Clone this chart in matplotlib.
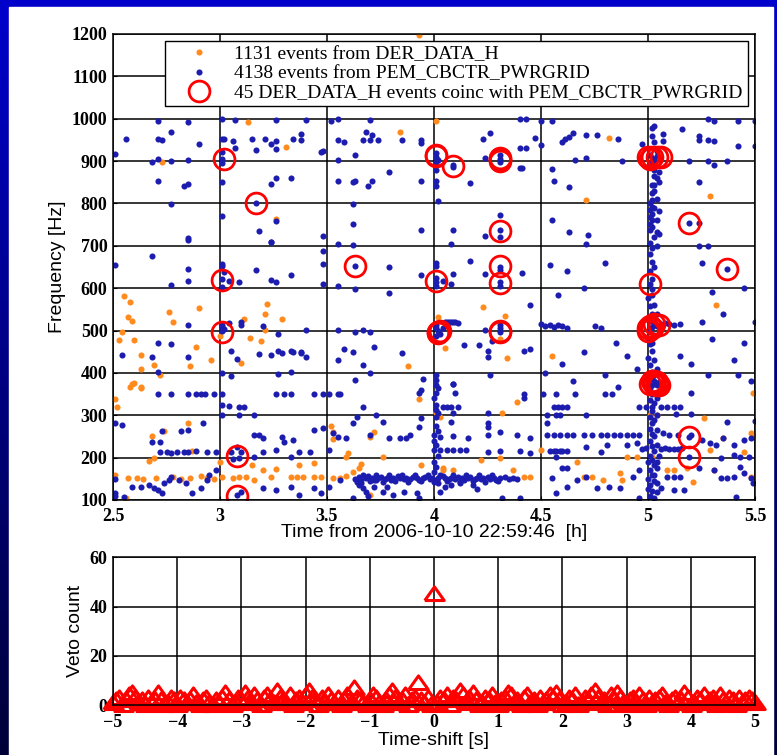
import numpy as np
import matplotlib
matplotlib.use("Agg")
import matplotlib.pyplot as plt
from matplotlib.lines import Line2D
from matplotlib.patches import Rectangle

# ── Data: scatter events (time [h], frequency [Hz]) ─────────────────────────
orange_pts = [
    (2.73, 897), (3.13, 993), (3.31, 933), (3.26, 763), (4.01, 995), (3.84, 969), (4.82, 955),
    (4.71, 807), (5.29, 818), (3.93, 1198),
    (2.55, 582), (2.58, 567), (2.57, 533), (2.59, 522), (2.54, 496), (2.53, 477), (2.60, 478),
    (2.76, 544), (2.78, 519), (2.90, 553), (2.63, 442), (2.69, 419), (2.63, 409), (2.72, 395),
    (2.89, 462), (2.96, 430), (2.86, 417), (3.00, 488), (3.11, 528), (3.10, 423), (3.22, 563),
    (3.21, 538), (3.29, 527), (3.21, 501), (3.19, 475), (3.14, 483), (2.60, 377), (2.58, 367),
    (2.63, 365), (4.02, 533), (4.23, 555), (4.33, 535), (4.31, 480), (4.05, 458), (4.34, 435),
    (3.88, 416), (4.55, 440), (5.32, 560),
    (2.59, 375), (2.63, 366), (2.51, 338), (2.52, 320), (2.85, 281), (2.74, 263), (2.68, 251),
    (2.69, 198), (2.67, 193), (2.87, 216), (2.57, 152), (2.61, 152), (2.64, 150), (2.70, 152),
    (2.78, 155), (2.82, 150), (2.86, 152), (2.91, 156), (2.94, 152), (2.97, 150), (2.56, 104),
    (2.51, 160), (3.00, 190), (3.01, 155), (3.06, 151), (3.09, 155), (3.15, 183), (3.12, 155),
    (3.16, 147), (3.20, 171), (3.26, 172), (3.24, 155), (3.33, 155), (3.36, 155), (3.39, 155),
    (3.44, 155), (3.47, 155), (3.37, 183), (3.44, 187), (3.52, 275), (3.53, 261), (3.53, 243),
    (3.59, 202), (3.60, 210), (3.65, 175), (3.70, 249), (3.72, 261), (3.76, 202), (3.53, 153),
    (3.56, 151), (3.59, 157), (3.62, 166), (3.66, 185), (3.70, 112), (3.93, 338), (4.01, 308),
    (4.03, 297), (4.04, 171), (4.39, 332), (4.01, 305), (4.32, 305), (5.01, 301), (5.04, 301),
    (5.26, 294), (5.49, 353), (5.48, 257),
    (3.94, 183), (4.04, 175), (4.09, 171), (4.22, 194), (4.31, 198), (4.37, 171), (4.42, 155),
    (4.45, 155), (4.50, 218), (4.67, 190), (4.70, 155), (4.74, 155), (4.79, 147), (4.87, 163),
    (4.88, 147), (4.90, 202), (4.95, 202), (5.02, 202), (5.09, 171), (5.12, 171), (5.18, 175),
    (5.21, 143), (5.29, 218), (5.31, 171), (5.35, 246), (5.45, 214), (5.48, 155), (5.49, 253),
]

blue_high = [
    (2.51, 916), (2.56, 953), (2.71, 995), (2.71, 951), (2.73, 949), (2.77, 969), (2.68, 897),
    (2.71, 905), (2.77, 900), (2.85, 992), (2.90, 941), (2.85, 903), (2.71, 852), (2.83, 841),
    (2.85, 845), (2.77, 799), (2.85, 718),
    (3.01, 1000), (3.07, 997), (3.26, 997), (3.40, 997), (3.01, 951), (3.02, 951), (3.06, 947),
    (3.07, 932), (3.15, 952), (3.17, 926), (3.21, 951), (3.24, 941), (3.26, 947), (3.26, 929),
    (3.34, 952), (3.38, 963), (3.38, 950), (3.01, 921), (3.01, 905), (3.01, 895), (3.01, 851),
    (3.24, 847), (3.26, 859), (3.33, 859), (3.17, 800), (3.01, 771), (3.18, 734), (3.26, 759),
    (3.24, 710), (3.47, 922),
    (3.52, 995), (3.55, 999), (3.70, 997), (4.40, 999), (4.43, 999), (3.68, 968), (3.71, 962),
    (3.70, 950), (3.67, 950), (3.74, 949), (3.55, 950), (3.58, 945), (3.85, 950), (3.94, 950),
    (3.94, 943), (3.48, 924), (3.55, 903), (3.63, 914), (4.01, 918), (4.01, 910), (4.02, 903),
    (4.01, 897), (4.01, 879), (4.09, 887), (4.09, 890), (3.79, 875), (3.55, 854), (3.62, 851),
    (3.63, 854), (3.69, 842), (3.71, 852), (3.94, 854), (4.01, 853), (4.01, 841), (4.17, 848),
    (4.02, 806), (4.23, 951), (4.26, 967), (4.24, 908), (4.31, 915), (4.31, 905), (4.31, 898),
    (4.40, 884), (4.40, 932), (4.43, 932), (3.62, 799), (3.62, 752), (3.48, 724), (3.55, 704),
    (3.62, 702), (3.94, 737), (4.09, 737), (4.08, 704), (4.31, 773), (4.31, 737), (4.31, 720),
    (4.24, 724),
    (4.50, 995), (4.55, 995), (5.28, 999), (5.31, 995), (5.42, 995), (5.50, 995), (5.02, 977),
    (5.03, 983), (5.16, 976), (5.07, 963), (5.07, 947), (5.24, 959), (5.24, 950), (5.28, 950),
    (5.31, 947), (5.42, 936), (5.50, 936), (4.47, 954), (4.50, 937), (4.60, 944), (4.63, 958),
    (4.61, 952), (4.65, 966), (4.71, 961), (4.76, 962), (4.86, 951), (4.97, 940), (4.66, 903),
    (4.71, 908), (4.88, 900), (5.01, 915), (5.02, 908), (5.03, 902), (5.04, 912), (5.02, 897),
    (5.19, 900), (5.28, 900), (5.31, 890), (5.37, 900), (4.41, 884), (4.55, 881), (4.56, 853),
    (4.63, 840), (5.05, 875), (5.03, 865), (5.05, 851), (5.02, 844), (5.03, 843), (5.24, 851),
    (5.02, 825), (5.02, 808), (5.01, 800), (5.02, 792), (5.01, 785), (5.02, 776), (5.01, 768),
    (5.02, 760), (5.01, 752), (5.02, 745), (5.01, 738), (5.05, 782), (4.55, 761), (5.19, 753),
    (5.24, 753), (4.63, 732), (4.72, 725), (4.71, 704), (5.04, 733), (5.05, 727), (5.01, 706),
    (5.24, 700), (5.28, 700),
]

blue_mid = [
    (2.85, 714), (3.24, 710), (2.68, 676), (2.51, 654), (2.85, 645), (2.85, 618), (2.77, 608),
    (3.01, 657), (3.01, 653), (3.02, 638), (3.01, 621), (3.01, 603), (3.04, 618), (3.09, 615),
    (3.17, 644), (3.24, 620), (3.26, 615), (3.33, 632), (2.85, 512), (3.01, 513), (3.01, 508),
    (3.01, 499), (3.02, 503), (3.04, 517), (3.10, 519), (3.10, 514), (3.20, 510), (3.27, 492),
    (3.40, 501), (2.54, 443), (2.68, 438), (2.71, 471), (2.77, 468), (2.85, 437), (3.05, 452),
    (3.08, 434), (3.18, 444), (3.24, 442), (3.27, 451), (3.29, 448), (3.33, 452), (3.34, 449),
    (3.38, 448), (3.40, 438), (2.71, 401), (3.01, 400), (3.05, 393), (3.27, 397), (3.33, 401),
    (3.48, 687), (3.48, 656), (3.63, 653), (3.79, 649), (3.48, 611), (3.55, 604), (3.63, 598),
    (3.79, 589), (4.01, 660), (4.01, 652), (3.94, 631), (4.09, 633), (4.01, 625), (4.01, 615),
    (4.01, 605), (4.04, 617), (4.08, 611), (4.17, 663), (4.24, 633), (4.31, 651), (4.31, 643),
    (4.41, 635), (4.31, 615), (4.31, 605), (3.55, 501), (3.63, 496), (3.67, 502), (3.70, 497),
    (4.01, 512), (4.01, 505), (4.02, 498), (4.03, 492), (4.01, 488), (4.04, 505), (4.05, 519),
    (4.06, 519), (4.07, 520), (4.08, 519), (4.09, 520), (4.10, 519), (4.11, 518), (4.24, 501),
    (4.31, 513), (4.31, 505), (4.31, 497), (3.38, 449), (3.58, 457), (3.62, 449), (3.55, 430),
    (3.72, 462), (3.67, 419), (3.70, 400), (3.63, 383), (3.85, 446), (4.14, 467), (4.21, 467),
    (4.25, 452), (4.25, 437), (4.27, 476), (4.42, 451), (4.45, 456), (4.01, 395), (4.01, 372),
    (4.09, 374), (3.95, 385), (4.26, 395),
    (4.54, 655), (4.62, 640), (4.80, 660), (4.70, 600), (4.58, 585), (5.25, 660), (5.30, 590),
    (5.45, 600), (5.37, 645), (4.45, 560), (4.50, 515), (4.52, 510), (4.54, 512), (4.56, 508),
    (4.58, 513), (4.60, 510), (4.62, 506), (4.75, 510), (4.78, 505), (4.85, 470), (4.90, 440),
    (4.70, 450), (4.60, 420), (4.52, 400), (4.65, 382), (4.80, 395), (4.95, 410),
    (5.00, 380), (5.01, 392), (5.02, 402), (5.01, 418), (5.00, 435), (5.02, 452), (5.01, 468),
    (5.00, 482), (5.01, 500), (5.02, 508), (5.01, 522), (5.02, 540), (5.01, 558), (5.00, 578),
    (5.02, 598), (5.01, 610), (5.02, 622), (5.01, 640), (5.02, 662), (5.01, 680), (5.02, 695),
    (5.06, 515), (5.08, 518), (5.10, 515), (5.12, 512), (5.15, 515), (5.03, 515), (5.04, 510),
    (5.03, 380), (5.04, 372), (5.05, 378), (5.02, 385),
    (5.25, 520), (5.30, 480), (5.35, 540), (5.40, 430), (5.45, 470), (5.50, 520), (5.20, 420),
    (5.15, 440), (5.28, 395), (5.42, 395), (5.48, 382),
]

blue_low = [
    (2.71, 350), (2.77, 350), (2.85, 350), (2.89, 350), (2.91, 350), (2.93, 350), (2.97, 350),
    (3.01, 350), (3.26, 350), (3.30, 350), (3.33, 350), (3.44, 350), (3.48, 350), (3.51, 350),
    (3.55, 350), (3.56, 350), (3.01, 324), (3.04, 322), (3.09, 319), (3.11, 319), (3.01, 301),
    (3.16, 301), (3.09, 301), (2.51, 282), (2.54, 277), (2.73, 263), (2.82, 263), (2.85, 265),
    (2.92, 282), (2.68, 238), (2.72, 238), (2.72, 213), (2.75, 213), (2.77, 212), (2.80, 213),
    (2.83, 213), (2.85, 214), (2.89, 215), (2.94, 213), (2.98, 214), (3.08, 226), (3.05, 214),
    (3.10, 214), (3.06, 196), (3.09, 198), (3.16, 253), (3.18, 253), (3.20, 246), (3.29, 249),
    (3.30, 238), (3.34, 242), (3.33, 202), (3.37, 214), (3.42, 214), (3.26, 218), (3.20, 214),
    (3.16, 202), (3.44, 265), (3.48, 269), (3.51, 218), (3.53, 257), (3.55, 249), (3.59, 246),
    (3.62, 281), (3.64, 297), (3.67, 320), (3.70, 253), (3.73, 301), (3.76, 285), (3.79, 246),
    (3.84, 246), (3.87, 246), (3.89, 253), (3.93, 273), (3.94, 293), (3.93, 352), (3.94, 360),
    (4.01, 324), (2.51, 150), (2.51, 110),
    (2.51, 116), (2.55, 108), (2.59, 131), (2.63, 131), (2.67, 135), (2.69, 128), (2.71, 124),
    (2.73, 116), (2.74, 139), (2.76, 147), (2.77, 155), (2.81, 147), (2.84, 139), (2.87, 116),
    (2.91, 128), (2.94, 147), (2.95, 159), (2.98, 171), (3.08, 112), (3.10, 120), (3.20, 128),
    (3.26, 124), (3.33, 131), (3.37, 112), (3.44, 128), (3.47, 116), (3.51, 131), (3.56, 147),
    (3.62, 104), (3.72, 131), (3.73, 147), (3.76, 120), (3.78, 131), (3.81, 112), (3.86, 120),
    (3.92, 116), (3.93, 104), (3.66, 140), (3.67, 128), (3.68, 118), (3.65, 135), (3.69, 110),
    (4.02, 140), (4.05, 130), (4.08, 135), (4.03, 118), (4.12, 140), (4.18, 135), (4.20, 125),
    (4.01, 383), (4.01, 352), (4.09, 375), (4.10, 352), (4.04, 319), (4.06, 319), (4.08, 319),
    (4.11, 319), (4.42, 350), (4.51, 350), (4.57, 350), (4.66, 350), (4.80, 350), (4.83, 350),
    (4.86, 366), (4.56, 319), (4.58, 319), (4.60, 319), (4.62, 319), (4.01, 312), (4.02, 305),
    (4.01, 297), (4.09, 305), (4.25, 305), (4.25, 282), (4.25, 273), (4.08, 285), (4.42, 340),
    (4.53, 282), (4.53, 301), (4.57, 301), (4.59, 301), (4.71, 301), (4.96, 320), (4.99, 320),
    (5.02, 320), (5.06, 320), (5.09, 320), (5.12, 320), (5.15, 320), (5.20, 352), (5.20, 302),
    (5.13, 302), (5.37, 285), (5.50, 286),
    (4.00, 253), (4.03, 249), (4.09, 251), (4.16, 246), (4.25, 253), (4.31, 261), (4.39, 253),
    (4.45, 246), (4.00, 218), (4.03, 218), (4.06, 218), (4.09, 218), (4.12, 218), (4.15, 218),
    (4.25, 214), (4.31, 216), (4.40, 216), (4.45, 210),
    (4.53, 253), (4.56, 253), (4.59, 253), (4.62, 253), (4.65, 253), (4.70, 253), (4.74, 253),
    (4.78, 253), (4.81, 253), (4.84, 253), (4.87, 253), (4.90, 253), (4.93, 253), (4.96, 253),
    (4.54, 216), (4.56, 216), (4.57, 216), (4.59, 216), (4.60, 216), (4.62, 216), (4.71, 226),
    (4.78, 214), (4.81, 230), (4.90, 230), (4.95, 234),
    (4.97, 220), (4.99, 222), (5.06, 220), (5.08, 222), (5.10, 220), (5.12, 221), (5.14, 220),
    (5.16, 222),
    (5.07, 257), (5.10, 253), (5.14, 253), (5.20, 253), (5.25, 242), (5.29, 234), (5.32, 230),
    (5.35, 246), (5.40, 230), (5.45, 242), (5.48, 246), (5.19, 249), (5.19, 201), (5.24, 175),
    (5.31, 171), (5.34, 151), (5.37, 151), (5.40, 155), (5.43, 179), (5.45, 163), (5.48, 151),
    (5.49, 139), (5.41, 108), (5.34, 198), (5.40, 206), (5.43, 202), (5.47, 202),
    (4.32, 104), (4.40, 104), (4.57, 116), (4.62, 131), (4.55, 151), (4.57, 202), (4.60, 175),
    (4.62, 175), (4.67, 147), (4.71, 155), (4.76, 128), (4.82, 131), (4.87, 128), (4.93, 155),
    (4.96, 171), (4.96, 104), (5.09, 155), (5.12, 155), (5.15, 155), (5.06, 128), (5.12, 124),
    (5.17, 124),
    (4.00, 165), (4.01, 178), (4.00, 190), (4.02, 205), (4.01, 230), (4.00, 240), (4.02, 262),
    (4.01, 275), (4.00, 340), (4.02, 365),
]

# dense vertical stripe of PEM events just after 5 h
blue_col5 = [
    (5.01, 110), (5.02, 122), (5.01, 135), (5.03, 145), (5.02, 158), (5.01, 170), (5.03, 182),
    (5.02, 195), (5.01, 205), (5.03, 215), (5.02, 228), (5.01, 240), (5.02, 255), (5.01, 268),
    (5.02, 282), (5.01, 295), (5.02, 310), (5.01, 335), (5.02, 350), (5.01, 365), (5.04, 140),
    (5.04, 175), (5.05, 205), (5.04, 230), (5.00, 190), (5.00, 150), (5.00, 125),
    (5.03, 105), (5.04, 118), (5.03, 160), (5.04, 190), (5.03, 250), (5.04, 265), (5.03, 290),
    (5.04, 300), (5.03, 330), (5.04, 340), (5.02, 372), (5.03, 395), (5.04, 410), (5.03, 430),
    (5.02, 470), (5.03, 490), (5.04, 540), (5.03, 560), (5.02, 585), (5.03, 650), (5.04, 700),
    (5.03, 720), (5.04, 760), (5.03, 790), (5.04, 810), (5.03, 830), (5.04, 860), (5.03, 880),
    (5.04, 925), (5.03, 945), (5.02, 960),
]

# dense horizontal line of PEM events near 150 Hz
blue_band = [
    (3.63, 150), (3.65, 154), (3.66, 148), (3.68, 153), (3.69, 156), (3.71, 151), (3.72, 148),
    (3.74, 152), (3.75, 155), (3.77, 150), (3.78, 153), (3.80, 148), (3.81, 152), (3.83, 156),
    (3.84, 151), (3.86, 149), (3.87, 153), (3.89, 150), (3.90, 155), (3.92, 152), (3.93, 148),
    (3.95, 151), (3.96, 154), (3.98, 150), (3.99, 153), (4.01, 148), (4.02, 152), (4.04, 156),
    (4.05, 151), (4.07, 149), (4.08, 153), (4.10, 150), (4.11, 155), (4.13, 152), (4.14, 148),
    (4.16, 151), (4.17, 154), (4.19, 150), (4.20, 153), (4.22, 149), (4.23, 152), (4.25, 155),
    (4.26, 150), (4.28, 153), (4.29, 148), (4.31, 151), (4.33, 154), (4.35, 150), (4.37, 152),
    (4.39, 149),
    (3.64, 143), (3.67, 160), (3.70, 144), (3.73, 159), (3.76, 143), (3.79, 160), (3.82, 144),
    (3.85, 160), (3.88, 143), (3.91, 159), (3.94, 144), (3.97, 160), (4.00, 143), (4.03, 160),
    (4.06, 144), (4.09, 159), (4.12, 143), (4.15, 160), (4.18, 144), (4.21, 159), (4.24, 143),
    (4.27, 160), (4.30, 144),
]

# 45 coincident events (red circles; several overlap)
coinc_pts = [
    (3.02, 905), (3.17, 800), (3.01, 619), (3.01, 497), (3.08, 205), (3.08, 110), (3.63, 653),
    (4.01, 912), (4.09, 888), (4.31, 907), (4.31, 900), (4.31, 735), (4.31, 652), (4.31, 612),
    (4.01, 617), (4.02, 497), (4.03, 500), (4.31, 496), (5.00, 909), (5.02, 909), (5.06, 909),
    (5.19, 753), (5.01, 610), (5.37, 645), (5.00, 500), (5.01, 510), (5.03, 515), (5.05, 512),
    (5.02, 380), (5.03, 375), (5.04, 378), (5.05, 372), (5.19, 249), (5.19, 201),
    (4.01, 915), (4.02, 495), (5.01, 905), (5.03, 380), (5.04, 372), (5.02, 505), (4.31, 905),
    (5.01, 375), (5.04, 910), (4.31, 498), (5.00, 505),
]

# ── Data: veto count vs time-shift (0.05 s steps from -5 to 5) ─────────────
veto_counts = [
    1, 2, 3, 0, 2, 4, 5, 3, 1, 2, 0, 3, 1, 2, 5, 2, 0, 1, 3, 2,
    0, 3, 2, 1, 2, 4, 1, 0, 2, 3, 1, 0, 2, 1, 3, 5, 2, 0, 1, 3,
    2, 5, 3, 1, 4, 2, 0, 3, 4, 2, 1, 6, 3, 2, 1, 4, 0, 2, 3, 1,
    4, 6, 3, 2, 0, 3, 1, 4, 2, 1, 3, 0, 2, 4, 1, 7, 3, 2, 1, 0,
    2, 4, 3, 1, 0, 2, 4, 6, 3, 1, 2, 4, 0, 2, 3, 9, 2, 1, 3, 0,
    45,
    1, 3, 2, 4, 0, 3, 2, 6, 4, 1, 3, 5, 2, 0, 1, 3, 2, 4, 1, 0,
    2, 3, 5, 4, 1, 2, 0, 3, 4, 1, 2, 0, 3, 1, 2, 4, 3, 5, 2, 0,
    1, 3, 2, 4, 0, 1, 3, 2, 4, 6, 3, 1, 2, 0, 4, 2, 5, 3, 1, 0,
    2, 3, 1, 4, 2, 0, 3, 1, 2, 3, 4, 1, 0, 2, 3, 1, 2, 5, 3, 0,
    1, 3, 2, 4, 1, 2, 3, 0, 4, 2, 1, 3, 2, 0, 3, 1, 2, 3, 2, 1,
]
time_shifts = np.linspace(-5, 5, len(veto_counts))

x_ticks_top = [2.5, 3, 3.5, 4, 4.5, 5, 5.5]
x_ticklabels_top = ["2.5", "3", "3.5", "4", "4.5", "5", "5.5"]
y_ticks_top = list(range(100, 1201, 100))
x_ticks_bot = list(range(-5, 6))
y_ticks_bot = [0, 20, 40, 60]

legend_labels = ["1131 events from DER_DATA_H",
                 "4138 events from PEM_CBCTR_PWRGRID",
                 "45 DER_DATA_H events coinc with PEM_CBCTR_PWRGRID"]

# ── Styling ─────────────────────────────────────────────────────────────────
ORANGE = "#ff8a1e"
BLUE = "#1c1cae"
RED = "#ff0000"
SERIF = ["Liberation Serif", "DejaVu Serif"]
LABEL_FONT = dict(family=["Liberation Sans", "DejaVu Sans"], size=14)

W, H = 777, 755
fig = plt.figure(figsize=(W / 100, H / 100), dpi=100)

# slide background: blue gradient frame + white panel
bg = fig.add_axes([0, 0, 1, 1], zorder=-10)
grad = np.linspace(0, 1, 256).reshape(-1, 1)
bg.imshow(np.dstack([np.zeros_like(grad), np.zeros_like(grad), 0.80 - 0.58 * grad]),
          aspect="auto", extent=[0, 1, 0, 1], origin="upper")
bg.add_patch(Rectangle((9 / W, 0), (773 - 9) / W, (H - 7) / H, color="white"))
bg.set_xlim(0, 1)
bg.set_ylim(0, 1)
bg.axis("off")


def style_axes(ax):
    ax.set_axisbelow(True)
    ax.grid(True, color="black", linewidth=1.1, linestyle="-")
    ax.tick_params(direction="in", length=3, colors="black")
    ax.tick_params(axis="x", pad=6)
    ax.tick_params(axis="y", pad=4)
    for sp in ax.spines.values():
        sp.set_color("black")
        sp.set_linewidth(1.1)
    for lab in ax.get_xticklabels() + ax.get_yticklabels():
        lab.set_fontfamily(SERIF)
        lab.set_fontweight("bold")
        lab.set_fontsize(13)


# ── Top panel: event scatter ────────────────────────────────────────────────
ax1 = fig.add_axes([113 / W, 1 - 500 / H, 642 / W, 466 / H])
o = np.array(orange_pts)
b = np.array(blue_high + blue_mid + blue_low + blue_col5 + blue_band)
c = np.array(coinc_pts)
ax1.plot(o[:, 0], o[:, 1], "o", color=ORANGE, ms=4.4, mew=0)
ax1.plot(b[:, 0], b[:, 1], "o", color=BLUE, ms=4.4, mew=0)
ax1.plot(c[:, 0], c[:, 1], "o", mfc="none", mec=RED, ms=15, mew=2)
ax1.set_xlim(2.5, 5.5)
ax1.set_ylim(100, 1200)
ax1.set_xticks(x_ticks_top)
ax1.set_xticklabels(x_ticklabels_top)
ax1.set_yticks(y_ticks_top)
style_axes(ax1)
ax1.set_xlabel("Time from 2006-10-10 22:59:46  [h]", labelpad=-1, **LABEL_FONT)
ax1.set_ylabel("Frequency [Hz]", labelpad=4, **LABEL_FONT)

handles = [
    Line2D([], [], ls="none", marker="o", color=ORANGE, ms=4.4, mew=0),
    Line2D([], [], ls="none", marker="o", color=BLUE, ms=4.4, mew=0),
    Line2D([], [], ls="none", marker="o", mfc="none", mec=RED, ms=15, mew=2),
]
leg = ax1.legend(handles, legend_labels, loc="upper right", bbox_to_anchor=(0.9886, 0.9856),
                 borderaxespad=0, fancybox=False, framealpha=1, edgecolor="black",
                 prop=dict(family=SERIF, size=14), labelspacing=0.08,
                 handlelength=3.0, handletextpad=0.3, borderpad=0.25, numpoints=1)
leg.get_frame().set_linewidth(1.0)

# ── Bottom panel: veto count vs time-shift ──────────────────────────────────
ax2 = fig.add_axes([113 / W, 1 - 705.3 / H, 642 / W, 148 / H])
tri = [(-1, -0.62), (1, -0.62), (0, 0.78), (-1, -0.62)]
ax2.plot(time_shifts, veto_counts, ls="none", marker=tri, mfc="none", mec=RED,
         ms=14, mew=2.2, clip_on=False)
ax2.set_xlim(-5, 5)
ax2.set_ylim(0, 60)
ax2.set_xticks(x_ticks_bot)
ax2.set_xticklabels([str(v).replace("-", "\u2212") for v in x_ticks_bot])
ax2.set_yticks(y_ticks_bot)
style_axes(ax2)
ax2.set_xlabel("Time-shift [s]", labelpad=1, **LABEL_FONT)
ax2.set_ylabel("Veto count", labelpad=4, **LABEL_FONT)

fig.savefig("out.png", dpi=100)
